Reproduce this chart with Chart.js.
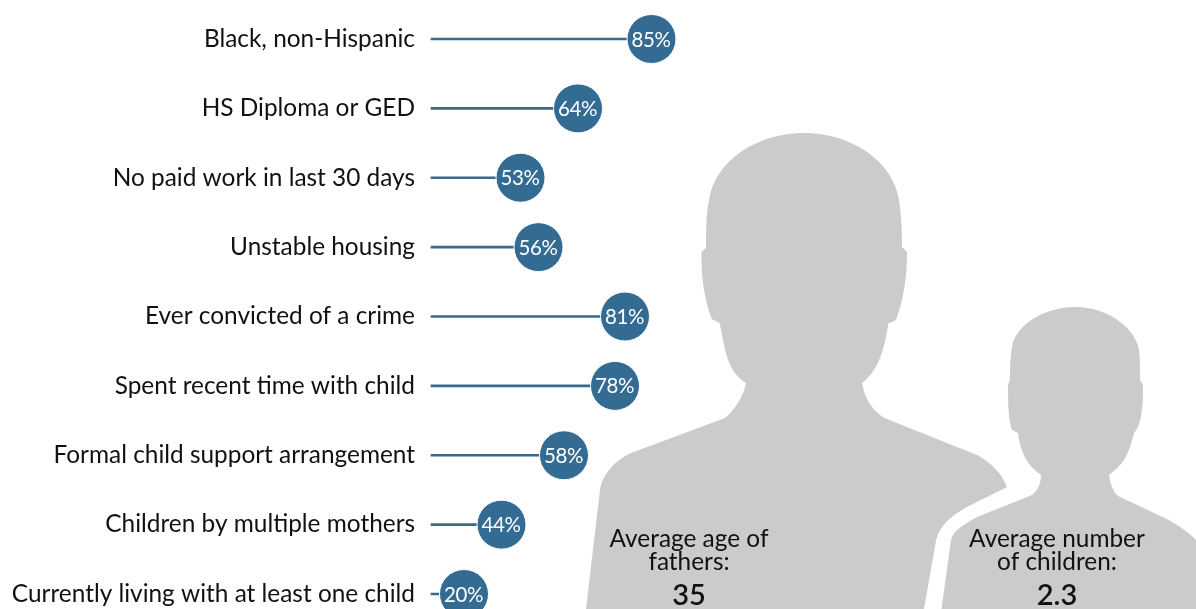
<!DOCTYPE html>
<html>
<head>
<meta charset="utf-8">
<style>
html,body{margin:0;padding:0;background:#fff;overflow:hidden}
#wrap{position:absolute;left:0;top:0;width:1196px;height:609px}
</style>
<script src="https://cdn.jsdelivr.net/npm/chart.js@4"></script>
</head>
<body>
<div id="wrap"><canvas id="c" width="1196" height="609"></canvas></div>
<script>
const categories = ["Black, non-Hispanic","HS Diploma or GED","No paid work in last 30 days","Unstable housing","Ever convicted of a crime","Spent recent time with child","Formal child support arrangement","Children by multiple mothers","Currently living with at least one child"];
const percentages = [85,64,53,56,81,78,58,44,20];
const averageAgeLabel = ["Average age of","fathers:"];
const averageAgeValue = "35";
const averageChildrenLabel = ["Average number","of children:"];
const averageChildrenValue = "2.3";

// The reference spaces its lollipops unevenly, so the axis is a monotone piecewise scale.
const axisStopValues = [0,20,44,53,56,58,64,78,81,85,100];
const axisStopOffsets = [0,33,70.5,89.5,107.5,133,147,184,194,220.5,280];

class ReferenceScale extends Chart.LinearScale {
  getPixelForValue(v){
    let i = 0;
    while(i < axisStopValues.length-2 && v > axisStopValues[i+1]) i++;
    const t = (v-axisStopValues[i])/(axisStopValues[i+1]-axisStopValues[i]);
    return this.left + axisStopOffsets[i] + t*(axisStopOffsets[i+1]-axisStopOffsets[i]);
  }
}
ReferenceScale.id = 'referenceScale';
ReferenceScale.defaults = Chart.LinearScale.defaults;
Chart.register(ReferenceScale);

const FONT = 'Lato, sans-serif';
const adult = new Path2D("M804 133 C850 133 893 160 899 200 C902 220 902 235 902 247 L907 252 C907 280 903 300 896 320 C893 322 890 323 888.5 323 C885 345 880 370 862 383 C864 397 873 412 884.5 418 L977 455 C990 462 1002 473 1007 487 L985 498 C960 510 940 520 935.6 543 L924 609 L586 609 L600 490 C602 475 615 460 631 453 L725 418 C735 410 744 395 746 383 C725 370 725 345 719.5 323 L711.6 319 C705 300 701 280 701.4 252 L706 248 C706 230 706 215 709 200 C715 160 758 133 804 133 Z");
const child = new Path2D("M1075 307 C1110 307 1136 330 1139 350 C1140 360 1140 370 1140 380 L1143 385 C1143 405 1142 425 1134 433 C1128 458 1122 465 1109 475 C1110 483 1113 492 1118 496 L1169 520 C1180 527 1190 533 1196 540 L1196 609 L941.5 609 L951 540 C953 530 965 524 977 517 L1032 495 C1038 490 1041 483 1041 475 C1026 465 1020 450 1018 433 L1012 430 C1008 420 1008 400 1008 385 L1010 380 C1010 370 1010 360 1012 347 C1015 325 1045 307 1075 307 Z");

const decorations = {
  id:'decorations',
  beforeDatasetsDraw(chart){
    const ctx = chart.ctx;
    ctx.save();
    ctx.fillStyle = '#cbcbcb';
    ctx.fill(adult);
    ctx.fill(child);
    ctx.fillStyle = '#111';
    ctx.textAlign = 'center';
    ctx.textBaseline = 'alphabetic';
    ctx.font = '24.4px '+FONT;
    averageAgeLabel.forEach((t,i)=>ctx.fillText(t,689,547+i*23));
    averageChildrenLabel.forEach((t,i)=>ctx.fillText(t,1057,547+i*23));
    ctx.font = '600 29px '+FONT;
    ctx.fillText(averageAgeValue,689,605);
    ctx.fillText(averageChildrenValue,1057,605);
    ctx.restore();
  },
  afterDatasetsDraw(chart){
    const ctx = chart.ctx, x = chart.scales.x, y = chart.scales.y;
    ctx.save();
    ctx.fillStyle = '#fff';
    ctx.textAlign = 'center';
    ctx.textBaseline = 'middle';
    ctx.font = '20.5px '+FONT;
    ctx.letterSpacing = '-0.4px';
    percentages.forEach((v,i)=>ctx.fillText(v+'%',x.getPixelForValue(v)-0.5,y.getPixelForValue(i)+1));
    ctx.restore();
  }
};

new Chart(document.getElementById('c'),{
  data:{
    labels:categories,
    datasets:[
      {type:'bar',data:percentages,backgroundColor:'#336b92',barThickness:2,clip:false,order:2},
      {type:'line',data:percentages,showLine:false,clip:false,pointRadius:24.5,pointHoverRadius:24.5,
       pointBackgroundColor:'#336b92',pointBorderColor:'#ffffff',pointBorderWidth:1,order:1}
    ]
  },
  plugins:[decorations],
  options:{
    indexAxis:'y',
    responsive:false,
    animation:false,
    events:[],
    layout:{autoPadding:false,padding:{top:39,bottom:15,left:0,right:0}},
    plugins:{legend:{display:false},title:{display:false},tooltip:{enabled:false}},
    scales:{
      x:{type:'referenceScale',min:0,max:100,display:false},
      y:{type:'category',offset:false,
         grid:{display:false,drawTicks:false},border:{display:false},
         afterFit(s){s.width=431;s.paddingTop=0;s.paddingBottom=0;},
         ticks:{color:'#111',padding:16,autoSkip:false,font:{family:FONT,size:24.4}}}
    }
  }
});
</script>
</body>
</html>
